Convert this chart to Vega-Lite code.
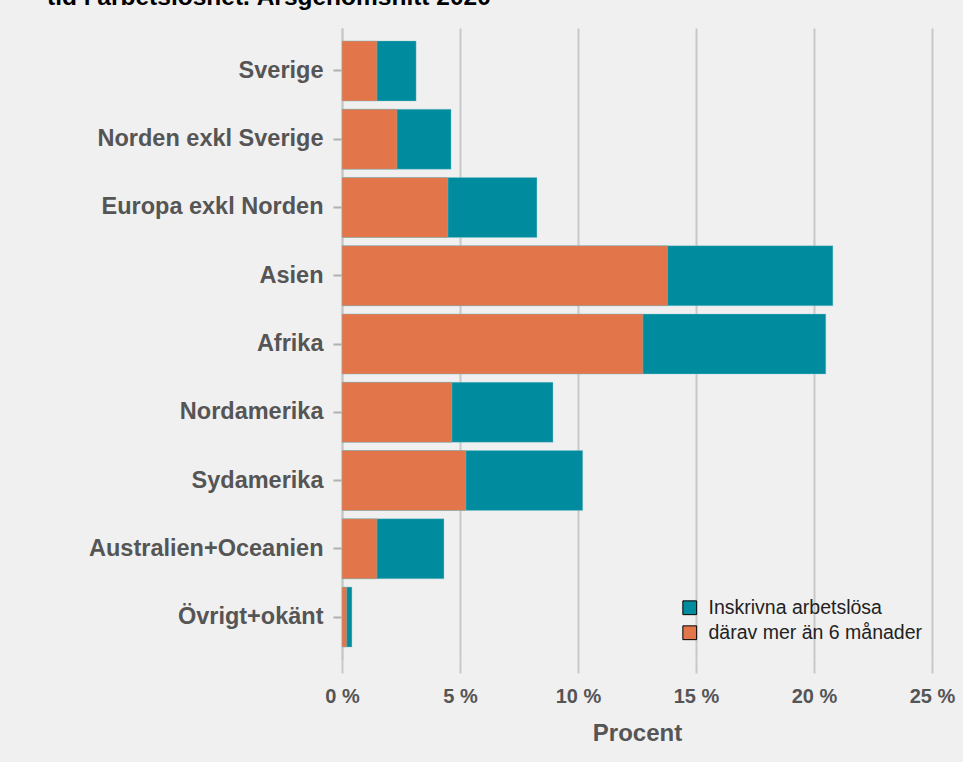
{
  "$schema": "https://vega.github.io/schema/vega-lite/v6.json",
  "autosize": {"type": "none"},
  "padding": {"left": 342, "top": 28, "right": 31, "bottom": 102},
  "width": 590,
  "height": 632,
  "background": "#f0f0f0",
  "title": {
    "text": "tid i arbetslöshet. Årsgenomsnitt 2020",
    "anchor": "start",
    "frame": "group",
    "orient": "top",
    "dx": -295,
    "offset": -6,
    "baseline": "bottom",
    "font": "Liberation Sans",
    "fontSize": 24.5,
    "fontWeight": "bold",
    "color": "#000000"
  },
  "config": {
    "view": {"stroke": null},
    "font": "Liberation Sans"
  },
  "data": {
    "values": [
      {"region": "Sverige", "serie": "Inskrivna arbetslösa", "procent": 3.14},
      {"region": "Norden exkl Sverige", "serie": "Inskrivna arbetslösa", "procent": 4.62},
      {"region": "Europa exkl Norden", "serie": "Inskrivna arbetslösa", "procent": 8.26},
      {"region": "Asien", "serie": "Inskrivna arbetslösa", "procent": 20.8},
      {"region": "Afrika", "serie": "Inskrivna arbetslösa", "procent": 20.5},
      {"region": "Nordamerika", "serie": "Inskrivna arbetslösa", "procent": 8.94},
      {"region": "Sydamerika", "serie": "Inskrivna arbetslösa", "procent": 10.2},
      {"region": "Australien+Oceanien", "serie": "Inskrivna arbetslösa", "procent": 4.32},
      {"region": "Övrigt+okänt", "serie": "Inskrivna arbetslösa", "procent": 0.42},
      {"region": "Sverige", "serie": "därav mer än 6 månader", "procent": 1.48},
      {"region": "Norden exkl Sverige", "serie": "därav mer än 6 månader", "procent": 2.33},
      {"region": "Europa exkl Norden", "serie": "därav mer än 6 månader", "procent": 4.49},
      {"region": "Asien", "serie": "därav mer än 6 månader", "procent": 13.8},
      {"region": "Afrika", "serie": "därav mer än 6 månader", "procent": 12.75},
      {"region": "Nordamerika", "serie": "därav mer än 6 månader", "procent": 4.66},
      {"region": "Sydamerika", "serie": "därav mer än 6 månader", "procent": 5.25},
      {"region": "Australien+Oceanien", "serie": "därav mer än 6 månader", "procent": 1.48},
      {"region": "Övrigt+okänt", "serie": "därav mer än 6 månader", "procent": 0.2}
    ]
  },
  "mark": {"type": "bar", "stroke": "#8cc8d0", "strokeWidth": 0.6, "strokeOpacity": 0.6},
  "encoding": {
    "y": {
      "field": "region",
      "type": "nominal",
      "sort": null,
      "scale": {"paddingInner": 0.121, "paddingOuter": 0.19},
      "axis": {
        "title": null,
        "labelFont": "Liberation Sans",
        "labelFontWeight": "bold",
        "labelFontSize": 23.5,
        "labelLimit": 400,
        "labelColor": "#555555",
        "labelPadding": 10,
        "tickSize": 9,
        "tickColor": "#b0b0b0",
        "tickWidth": 2,
        "domainColor": "#c8c8c8",
        "domainWidth": 2,
        "grid": false
      }
    },
    "x": {
      "field": "procent",
      "type": "quantitative",
      "stack": null,
      "scale": {"domain": [0, 25], "nice": false},
      "axis": {
        "title": "Procent",
        "values": [0, 5, 10, 15, 20, 25],
        "labelExpr": "datum.value + ' %'",
        "labelFont": "Liberation Sans",
        "labelFontWeight": "bold",
        "labelFontSize": 20,
        "labelColor": "#555555",
        "labelPadding": 13,
        "labelFlush": false,
        "tickSize": 13,
        "tickColor": "#c8c8c8",
        "tickWidth": 2,
        "domain": false,
        "grid": true,
        "gridColor": "#c8c8c8",
        "gridWidth": 2,
        "titleFont": "Liberation Sans",
        "titleFontWeight": "bold",
        "titleFontSize": 24,
        "titleColor": "#555555",
        "titlePadding": 15
      }
    },
    "color": {
      "field": "serie",
      "type": "nominal",
      "scale": {
        "domain": ["Inskrivna arbetslösa", "därav mer än 6 månader"],
        "range": ["#008c9e", "#e2754a"]
      },
      "legend": {
        "title": null,
        "orient": "none",
        "legendX": 338,
        "legendY": 570,
        "symbolType": "square",
        "symbolSize": 190,
        "symbolStrokeColor": "#000000",
        "symbolStrokeWidth": 1,
        "symbolOpacity": 1,
        "labelFont": "Liberation Sans",
        "labelFontSize": 19.5,
        "labelLimit": 400,
        "labelColor": "#222222",
        "rowPadding": 4,
        "labelOffset": 9
      }
    },
    "order": {"field": "serie", "sort": "ascending"}
  }
}
